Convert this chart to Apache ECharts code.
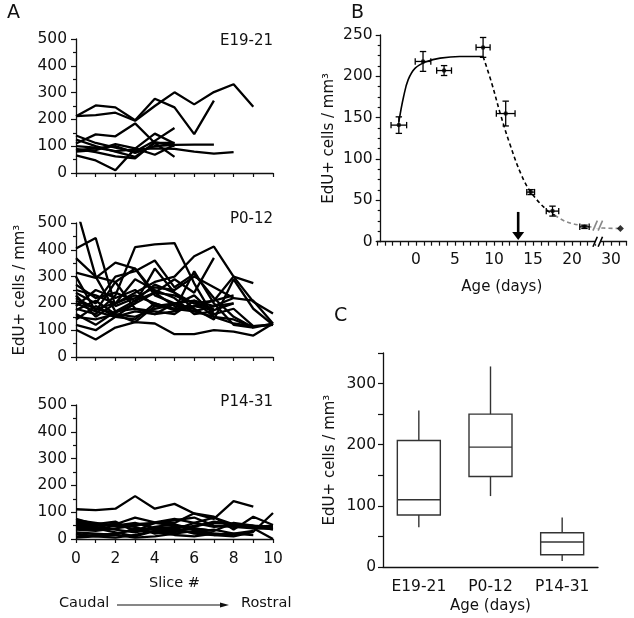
<!DOCTYPE html>
<html><head><meta charset="utf-8">
<script src="https://cdn.jsdelivr.net/npm/echarts@6/dist/echarts.min.js"></script>
<style>html,body{margin:0;padding:0;background:#fff}#c{width:634px;height:618px}</style>
</head><body><div id="c"></div>
<script>
// ================= Panel A: EdU+ cells per slice =================
const groupsA = ['E19-21', 'P0-12', 'P14-31'];
const yTicksA = [0, 100, 200, 300, 400, 500];
const sliceTicks = [0, 2, 4, 6, 8, 10];

// E19-21
const e1 = [212, 252, 245, 197, 277, 245, 145, 270];
const e2 = [212, 216, 225, 195, 250, 301, 256, 302, 331, 247];
const e3 = [110, 144, 137, 185, 112, 60];
const e4 = [140, 112, 95, 80, 120, 168];
const e5 = [66, 47, 10, 91, 147, 110];
const e6 = [125, 100, 80, 60, 112, 112];
const e7 = [85, 92, 100, 75, 100, 105, 106, 106];
const e8 = [100, 95, 82, 88, 92, 90, 80, 72, 78];
const e9 = [80, 85, 108, 92, 68, 105];
const e10 = [90, 78, 62, 55, 115, 100];

// P0-12
const p1 = [560, 300, 170, 210, 240, 190, 180];
const p2 = [405, 444, 190, 220, 260, 250, 300, 260, 220];
const p3 = [180, 160, 230, 410, 420, 425, 275, 150, 125, 115, 120];
const p4 = [210, 180, 200, 240, 280, 300, 376, 412, 300, 206, 162];
const p5 = [102, 65, 110, 130, 125, 85, 85, 100, 95, 80, 125];
const p6 = [240, 200, 300, 320, 360, 260, 310, 220, 150, 110, 125];
const p7 = [369, 300, 280, 330, 240, 230, 200, 180];
const p8 = [315, 295, 352, 330, 230, 200, 170, 150];
const p9 = [220, 180, 165, 200, 240, 290, 240, 370];
const p10 = [250, 230, 200, 230, 200, 175, 320, 200, 120, 110];
const p11 = [190, 250, 220, 250, 190, 180, 190, 210, 300, 276];
const p12 = [160, 120, 170, 180, 170, 160, 210, 190, 220, 210, 125];
const p13 = [200, 170, 280, 180, 160, 200, 180, 140, 290, 180, 120];
const p14 = [140, 190, 150, 140, 200, 180, 170, 190, 200];
const p15 = [230, 150, 200, 290, 250, 220, 160, 170];
const p16 = [175, 210, 160, 150, 180, 195, 230, 160, 180, 115, 120];
const p17 = [270, 220, 240, 210, 270, 240, 200, 210, 230];
const p18 = [120, 100, 150, 170, 160, 170, 190, 175, 200];
const p19 = [300, 170, 150, 200, 330, 240, 180];
const p20 = [150, 140, 160, 130, 190, 200, 210, 150, 140, 110];

// P14-31
const b1 = [111, 108, 113, 160, 113, 131, 95, 75, 141, 121];
const b2 = [75, 55, 65, 30, 60, 60, 96, 83, 35, 83, 52];
const b3 = [60, 50, 55, 80, 62, 75, 60, 80, 55, 40, 0];
const b4 = [45, 40, 25, 10, 30, 40, 20, 15, 10, 27, 97];
const b5 = [70, 60, 50, 60, 40, 45, 40, 30, 60, 50, 45];
const b6 = [35, 30, 40, 50, 60, 70, 80, 50, 45, 40, 38];
const b7 = [25, 20, 15, 40, 35, 30, 25, 35, 20, 30];
const b8 = [55, 45, 35, 25, 40, 35, 60, 45, 50, 45, 40];
const b9 = [10, 15, 20, 35, 25, 15, 10, 20, 15];
const b10 = [40, 35, 50, 45, 20, 30, 40, 30];
const b11 = [20, 10, 5, 15, 30, 25, 50, 60, 55, 50, 35];
const b12 = [50, 40, 60, 30, 45, 55, 35, 20, 15];
const b13 = [5, 10, 15, 5, 10, 20, 30, 15, 20, 15];
const b14 = [65, 55, 50, 55, 60, 50, 45, 65, 55, 45, 50];

const linesA = [
  [e1, e2, e3, e4, e5, e6, e7, e8, e9, e10],
  [p1, p2, p3, p4, p5, p6, p7, p8, p9, p10, p11, p12, p13, p14, p15, p16, p17, p18, p19, p20],
  [b1, b2, b3, b4, b5, b6, b7, b8, b9, b10, b11, b12, b13, b14]
];

// ================= Panel B: density vs age =================
const ageMean = [-2.2, 0.9, 3.6, 8.6, 11.5, 14.7, 17.5, 21.6, 31.2];
const ageErr = [1.0, 1.0, 0.95, 0.9, 1.2, 0.5, 0.8, 0.6, 0];
const cellMean = [141, 218, 207, 235, 155, 60, 37, 18, 16];
const cellErr = [10, 12, 6, 12, 15, 3, 6, 2, 0];
// fitted curves
const riseAge = [-2.2, -1.6, -1.0, -0.1, 1.4, 3.1, 5.6, 8.6];
const riseVal = [145, 175, 196, 210, 218, 222, 224, 224];
const fallAge = [8.6, 9.7, 10.8, 12.0, 13.5, 14.8, 16.8, 17.8];
const fallVal = [224, 192, 155, 119, 81, 59, 38, 32];
const tailAge = [17.8, 19.3, 21.9, 23.0, 29.0, 31.2];
const tailVal = [32, 24, 18.5, 17.5, 16.5, 16];
const xTicksB = [0, 5, 10, 15, 20, 30];
const yTicksB = [0, 50, 100, 150, 200, 250];
const arrowAge = 13.1, arrowTop = 36, arrowTip = 2;
// axis break
const BREAK_AT = 23.3, BREAK_SHIFT = 5;
function toAxis(age) { return age > BREAK_AT ? age - BREAK_SHIFT : age; }
function axisLabelB(v) { const a = v > BREAK_AT - 0.01 ? v + BREAK_SHIFT : v; return xTicksB.indexOf(a) >= 0 ? String(a) : ''; }

// ================= Panel C: box plot =================
const boxCats = ['E19-21', 'P0-12', 'P14-31'];
const boxMin = [65, 116, 10];
const boxQ1 = [85, 148, 20];
const boxMed = [110, 196, 41];
const boxQ3 = [207, 250, 56];
const boxMax = [256, 328, 81];
const yTicksC = [0, 100, 200, 300];

// ================= Build =================
const FONT = 'DejaVu Sans';
const INK = '#111';
const axisLineStyle = { lineStyle: { color: INK, width: 1.3 } };
const lab = { fontFamily: FONT, fontSize: 15.5, color: INK };

const grid = [
  { left: 76, top: 39, width: 197, height: 134 },
  { left: 76, top: 223, width: 197, height: 134 },
  { left: 76, top: 405, width: 197, height: 134 },
  { left: 377, top: 35, width: 249.6, height: 206.7 },
  { left: 383, top: 353, width: 215, height: 214 }
];

const xAxis = [], yAxis = [], series = [];
for (let g = 0; g < 3; g++) {
  xAxis.push({
    gridIndex: g, type: 'value', min: 0, max: 10, interval: 1,
    axisLine: Object.assign({ onZero: false }, axisLineStyle),
    axisTick: { length: 4, lineStyle: { color: INK, width: 1.2 } },
    splitLine: { show: false },
    axisLabel: g === 2 ? Object.assign({ margin: 12, formatter: v => sliceTicks.indexOf(v) >= 0 ? String(v) : '' }, lab) : { show: false },
    name: g === 2 ? 'Slice #' : '', nameLocation: 'middle', nameGap: 37,
    nameTextStyle: { fontFamily: FONT, fontSize: 14.5, color: INK }
  });
  yAxis.push({
    gridIndex: g, type: 'value', min: 0, max: 500, interval: 100,
    axisLine: Object.assign({ show: true, onZero: false }, axisLineStyle),
    axisTick: { show: true, length: 5, lineStyle: { color: INK, width: 1.2 } },
    minorTick: { show: true, splitNumber: 2, length: 3, lineStyle: { color: INK, width: 1.2 } },
    splitLine: { show: false },
    axisLabel: Object.assign({ margin: 9, formatter: v => yTicksA.indexOf(v) >= 0 ? String(v) : '' }, lab),
    name: g === 1 ? 'EdU+ cells / mm³' : '', nameLocation: 'middle', nameGap: 48,
    nameTextStyle: { fontFamily: FONT, fontSize: 15, color: INK }
  });
  linesA[g].forEach(arr => series.push({
    type: 'line', xAxisIndex: g, yAxisIndex: g, data: arr.map((v, i) => [i, v]),
    showSymbol: false, silent: true, animation: false, clip: true,
    lineStyle: { color: '#000', width: 2.3 }
  }));
}

// Panel B axes
xAxis.push({
  gridIndex: 3, type: 'value', min: -5, max: 27, interval: 5,
  axisLine: Object.assign({ onZero: false }, axisLineStyle),
  axisTick: { length: 4, lineStyle: { color: INK, width: 1.2 } },
  minorTick: { show: true, splitNumber: 5, length: 4, lineStyle: { color: INK, width: 1.2 } },
  splitLine: { show: false },
  axisLabel: Object.assign({ margin: 10, formatter: axisLabelB }, lab),
  name: 'Age (days)', nameLocation: 'middle', nameGap: 38,
  nameTextStyle: { fontFamily: FONT, fontSize: 15, color: INK }
});
yAxis.push({
  gridIndex: 3, type: 'value', min: 0, max: 250, interval: 50, offset: -3.7,
  axisLine: Object.assign({ show: true, onZero: false }, axisLineStyle),
  axisTick: { show: true, length: 5, lineStyle: { color: INK, width: 1.2 } },
  minorTick: { show: true, splitNumber: 4, length: 3, lineStyle: { color: INK, width: 1.2 } },
  splitLine: { show: false },
  axisLabel: Object.assign({ margin: 8, formatter: v => yTicksB.indexOf(v) >= 0 ? String(v) : '' }, lab),
  name: 'EdU+ cells / mm³', nameLocation: 'middle', nameGap: 44,
  nameTextStyle: { fontFamily: FONT, fontSize: 15, color: INK }
});

// Panel C axes
xAxis.push({
  gridIndex: 4, type: 'category', data: boxCats, boundaryGap: true,
  axisLine: Object.assign({ onZero: false }, axisLineStyle),
  axisTick: { alignWithLabel: true, length: 5, lineStyle: { color: INK, width: 1.2 } },
  axisLabel: Object.assign({ margin: 12 }, lab),
  name: 'Age (days)', nameLocation: 'middle', nameGap: 32,
  nameTextStyle: { fontFamily: FONT, fontSize: 15, color: INK }
});
yAxis.push({
  gridIndex: 4, type: 'value', min: 0, max: 350, interval: 50,
  axisLine: Object.assign({ show: true, onZero: false }, axisLineStyle),
  axisTick: { show: true, length: 5, lineStyle: { color: INK, width: 1.2 } },
  splitLine: { show: false },
  axisLabel: Object.assign({ margin: 7, formatter: v => yTicksC.indexOf(v) >= 0 ? String(v) : '' }, lab),
  name: 'EdU+ cells / mm³', nameLocation: 'middle', nameGap: 45,
  nameTextStyle: { fontFamily: FONT, fontSize: 15, color: INK }
});

// Panel B series
series.push({
  type: 'line', xAxisIndex: 3, yAxisIndex: 3, smooth: 0.4, showSymbol: false, silent: true, animation: false,
  data: riseAge.map((a, i) => [toAxis(a), riseVal[i]]), lineStyle: { color: '#000', width: 1.6 }
});
series.push({
  type: 'line', xAxisIndex: 3, yAxisIndex: 3, smooth: 0.4, showSymbol: false, silent: true, animation: false,
  data: fallAge.map((a, i) => [toAxis(a), fallVal[i]]), lineStyle: { color: '#000', width: 1.6, type: [4, 3] }
});
series.push({
  type: 'line', xAxisIndex: 3, yAxisIndex: 3, smooth: 0.4, showSymbol: false, silent: true, animation: false,
  data: tailAge.map((a, i) => [toAxis(a), tailVal[i]]), lineStyle: { color: '#888', width: 1.6, type: [4, 3] }
});
// error bars
series.push({
  type: 'custom', xAxisIndex: 3, yAxisIndex: 3, silent: true, animation: false, z: 5,
  data: ageMean.map((a, i) => [toAxis(a), cellMean[i], ageErr[i], cellErr[i]]),
  renderItem: function (params, api) {
    const x = api.value(0), y = api.value(1), ex = api.value(2), ey = api.value(3);
    if (!ex && !ey) return null;
    const l = api.coord([x - ex, y]), r = api.coord([x + ex, y]);
    const t = api.coord([x, y + ey]), b = api.coord([x, y - ey]);
    const cap = 3.2;
    const st = { stroke: '#000', lineWidth: 1.3, fill: null };
    const L = (x1, y1, x2, y2) => ({ type: 'line', shape: { x1, y1, x2, y2 }, style: st });
    return {
      type: 'group', children: [
        L(l[0], l[1], r[0], r[1]), L(t[0], t[1], b[0], b[1]),
        L(l[0], l[1] - cap, l[0], l[1] + cap), L(r[0], r[1] - cap, r[0], r[1] + cap),
        L(t[0] - cap, t[1], t[0] + cap, t[1]), L(b[0] - cap, b[1], b[0] + cap, b[1])
      ]
    };
  }
});
series.push({
  type: 'scatter', xAxisIndex: 3, yAxisIndex: 3, silent: true, animation: false, z: 6,
  data: ageMean.map((a, i) => ({ value: [toAxis(a), cellMean[i]], symbol: ageErr[i] ? 'circle' : 'diamond', symbolSize: ageErr[i] ? 4.5 : 7 })),
  itemStyle: { color: '#000' }
});
// arrow
series.push({
  type: 'custom', xAxisIndex: 3, yAxisIndex: 3, silent: true, animation: false, z: 6,
  data: [[arrowAge, arrowTop, arrowTip]],
  renderItem: function (params, api) {
    const top = api.coord([api.value(0), api.value(1)]);
    const tip = api.coord([api.value(0), api.value(2)]);
    const hl = 8, hw = 6;
    return {
      type: 'group', children: [
        { type: 'line', shape: { x1: top[0], y1: top[1], x2: tip[0], y2: tip[1] - hl + 1 }, style: { stroke: '#000', lineWidth: 2.6 } },
        { type: 'polygon', shape: { points: [[tip[0] - hw, tip[1] - hl], [tip[0] + hw, tip[1] - hl], [tip[0], tip[1]]] }, style: { fill: '#000' } }
      ]
    };
  }
});
// break marks (on axis and on the fitted tail)
series.push({
  type: 'custom', xAxisIndex: 3, yAxisIndex: 3, silent: true, animation: false, z: 8, clip: false,
  data: [[BREAK_AT, 0, 1], [BREAK_AT, 19.5, 0]],
  renderItem: function (params, api) {
    const p = api.coord([api.value(0), api.value(1)]);
    const onAxis = api.value(2) === 1;
    const col = onAxis ? '#000' : '#888';
    const gap = 2.6, h = 5, s = 2.2;
    return {
      type: 'group', children: [
        { type: 'rect', shape: { x: p[0] - gap, y: p[1] - 2.5, width: 2 * gap, height: 5 }, style: { fill: '#fff' } },
        { type: 'line', shape: { x1: p[0] - gap - s, y1: p[1] + h, x2: p[0] - gap + s, y2: p[1] - h }, style: { stroke: col, lineWidth: 1.6 } },
        { type: 'line', shape: { x1: p[0] + gap - s, y1: p[1] + h, x2: p[0] + gap + s, y2: p[1] - h }, style: { stroke: col, lineWidth: 1.6 } }
      ]
    };
  }
});

// Panel C box plot
series.push({
  type: 'custom', xAxisIndex: 4, yAxisIndex: 4, silent: true, animation: false,
  data: boxCats.map((c, i) => [i, boxMin[i], boxQ1[i], boxMed[i], boxQ3[i], boxMax[i]]),
  renderItem: function (params, api) {
    const i = api.value(0);
    const w = api.size([1, 0])[0] * 0.6;
    const pMin = api.coord([i, api.value(1)]), pQ1 = api.coord([i, api.value(2)]);
    const pMed = api.coord([i, api.value(3)]), pQ3 = api.coord([i, api.value(4)]);
    const pMax = api.coord([i, api.value(5)]);
    const st = { stroke: '#333', lineWidth: 1.4, fill: null };
    const x = pQ1[0];
    return {
      type: 'group', children: [
        { type: 'line', shape: { x1: x, y1: pMax[1], x2: x, y2: pQ3[1] }, style: st },
        { type: 'line', shape: { x1: x, y1: pQ1[1], x2: x, y2: pMin[1] }, style: st },
        { type: 'rect', shape: { x: x - w / 2, y: pQ3[1], width: w, height: pQ1[1] - pQ3[1] }, style: st },
        { type: 'line', shape: { x1: x - w / 2, y1: pMed[1], x2: x + w / 2, y2: pMed[1] }, style: st }
      ]
    };
  }
});

const txt = (t, x, y, size, extra) => Object.assign({ type: 'text', left: x, top: y, silent: true, style: { text: t, font: size + 'px "' + FONT + '"', fill: INK } }, extra || {});
const graphic = [
  txt('A', 7, 4, 19), txt('B', 351, 4, 19), txt('C', 334, 307, 19),
  { type: 'text', right: 361, top: 34, silent: true, style: { text: groupsA[0], font: '15px "' + FONT + '"', fill: INK } },
  { type: 'text', right: 361, top: 212, silent: true, style: { text: groupsA[1], font: '15px "' + FONT + '"', fill: INK } },
  { type: 'text', right: 361, top: 395, silent: true, style: { text: groupsA[2], font: '15px "' + FONT + '"', fill: INK } },
  txt('Caudal', 59, 596, 14.5), txt('Rostral', 241, 596, 14.5),
  { type: 'line', silent: true, shape: { x1: 117, y1: 605, x2: 222, y2: 605 }, style: { stroke: INK, lineWidth: 1.2 } },
  { type: 'polygon', silent: true, shape: { points: [[220, 602.5], [229, 605], [220, 607.5]] }, style: { fill: INK } }
];

const chart = echarts.init(document.getElementById('c'));
chart.setOption({ animation: false, grid, xAxis, yAxis, series, graphic });
</script></body></html>
